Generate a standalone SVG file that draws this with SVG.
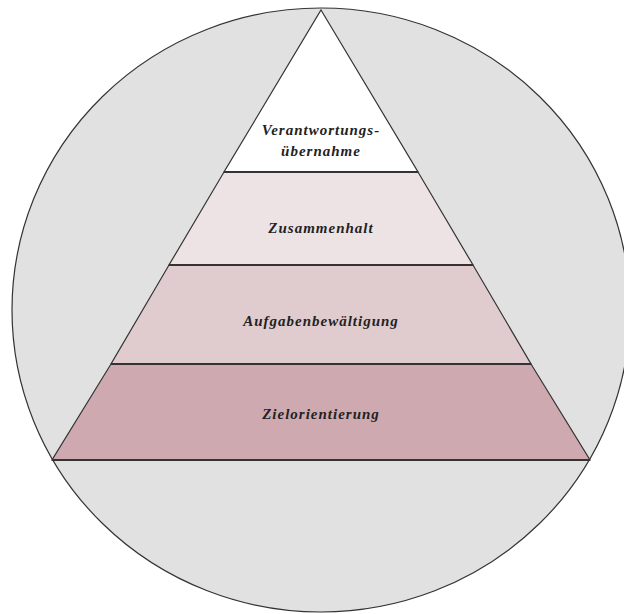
<svg xmlns="http://www.w3.org/2000/svg" width="624" height="614" viewBox="0 0 624 614">
<style>
.lbl{font-family:"Liberation Serif","Times New Roman",serif;font-style:italic;font-weight:bold;font-size:15px;fill:#222;text-anchor:middle;letter-spacing:1px}
.band{stroke:#333;stroke-width:1.2}
.sep{stroke:#333;stroke-width:2}
</style>
<rect width="624" height="614" fill="#ffffff"/>
<g id="circle"><ellipse cx="321" cy="310" rx="309" ry="302" fill="#e1e1e1" stroke="#333" stroke-width="1.2"/></g>
<g id="level4"><polygon class="band" points="321,10 418,172 224,172" fill="#ffffff"/><text class="lbl" x="321" y="135">Verantwortungs-</text><text class="lbl" x="321" y="156">übernahme</text></g>
<g id="level3"><polygon class="band" points="224,172 418,172 473,265 169,265" fill="#ede3e5"/><text class="lbl" x="321" y="233">Zusammenhalt</text></g>
<g id="level2"><polygon class="band" points="169,265 473,265 531,364 111,364" fill="#e0cbce"/><text class="lbl" x="321" y="326">Aufgabenbewältigung</text></g>
<g id="level1"><polygon class="band" points="111,364 531,364 590,460 52,460" fill="#cfa9b0"/><text class="lbl" x="321" y="419">Zielorientierung</text></g>
<g id="connectors">
<line class="sep" x1="224" y1="172" x2="418" y2="172"/>
<line class="sep" x1="169" y1="265" x2="473" y2="265"/>
<line class="sep" x1="111" y1="364" x2="531" y2="364"/>
<line class="sep" x1="52" y1="460" x2="590" y2="460"/>
</g>
</svg>
